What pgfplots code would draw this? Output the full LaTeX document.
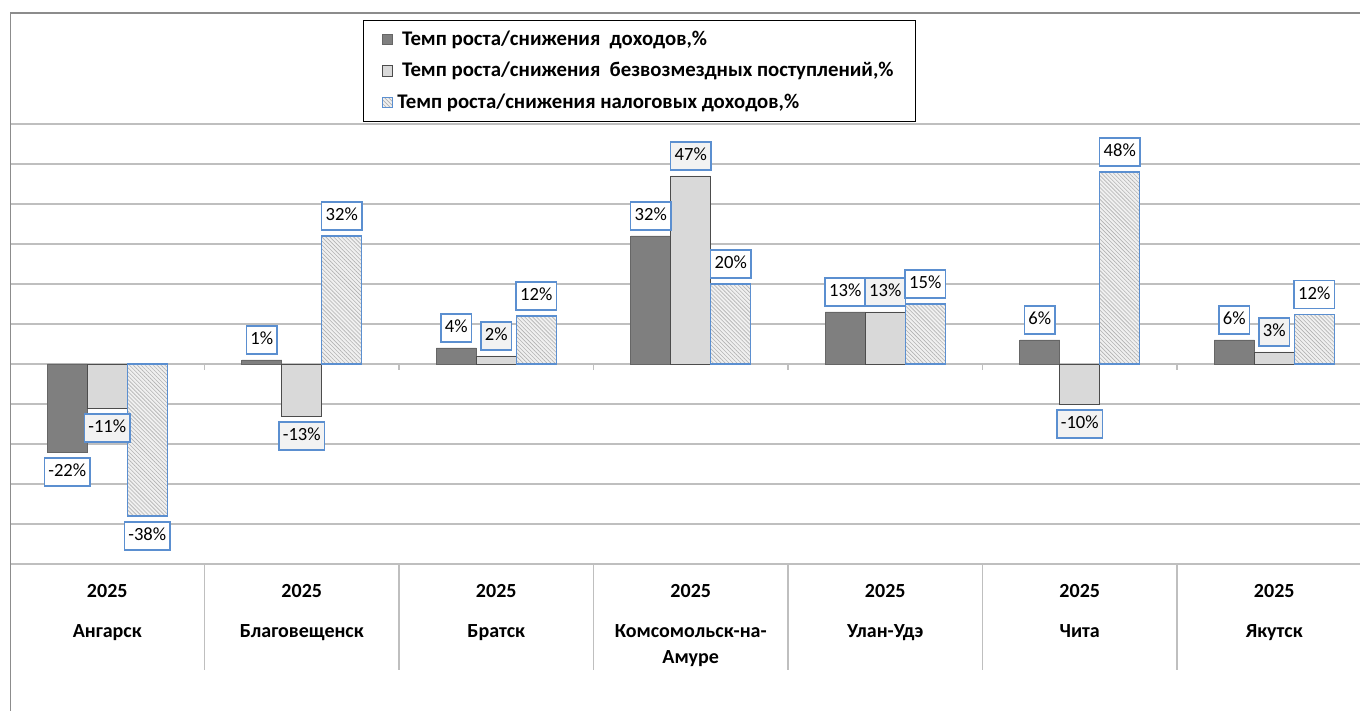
\documentclass[border=0pt]{standalone}
\usepackage{pgfplots}
\pgfplotsset{compat=1.18}
\usepackage{fontspec}
\setmainfont{Carlito}
\usetikzlibrary{patterns.meta}
\definecolor{darkbar}{HTML}{7F7F7F}
\definecolor{lightbar}{HTML}{D9D9D9}
\definecolor{labelblue}{HTML}{5B8FD0}
\definecolor{gridgray}{HTML}{BFBFBF}
\definecolor{bordergray}{HTML}{8C8C8C}
\begin{document}
\begin{tikzpicture}
\begin{axis}[
  scale only axis, width=675pt, height=349pt,
  xmin=-0.5, xmax=6.441, ymin=-86.75, ymax=87.75,
  ybar=0pt, bar width=20pt,
  axis line style={draw=none},
  tick style={draw=none}, major tick length=0pt,
  ytick={-50,-40,...,60}, yticklabels={},
  ymajorgrids, major grid style={gridgray, line width=0.6pt},
  xtick={0,...,6},
  xticklabels={{2025\\[7pt]Ангарск},{2025\\[7pt]Благовещенск},{2025\\[7pt]Братск},{2025\\[7pt]Комсомольск-на-\\Амуре},{2025\\[7pt]Улан-Удэ},{2025\\[7pt]Чита},{2025\\[7pt]Якутск}},
  xticklabel style={align=center, font=\bfseries\fontsize{10}{13}\selectfont, yshift=67pt, anchor=north},
  nodes near coords={\pgfmathprintnumber[fixed,precision=0,assume math mode=true]{\pgfplotspointmeta}\%},
  nodes near coords style={draw=labelblue, fill=white, font=\fontsize{9.3}{10}\selectfont, inner xsep=2pt, inner ysep=2.5pt, text height=7pt, text depth=2pt, outer sep=3pt, text=black, line width=0.8pt},
  legend image code/.code={\draw[#1] (0pt,-2.6pt) rectangle (5.2pt,2.6pt);},
  legend cell align=left,
  legend style={at={(0.2615,0.99)}, anchor=north west, draw=black, line width=0.5pt, font=\bfseries\fontsize{10.4}{12}\selectfont, inner xsep=9pt, inner ysep=3pt, row sep=3pt},
]
\addplot[fill=darkbar, draw=black!60, line width=0.4pt] coordinates {(0,-22) (1,1) (2,4) (3,32) (4,13) (5,6) (6,6)};
\addlegendentry{\ Темп роста/снижения\ \ доходов,\%}
\addplot[fill=lightbar, draw=black!70, line width=0.4pt, every node near coord/.append style={fill=black!5}] coordinates {(0,-11) (1,-13) (2,2) (3,47) (4,13) (5,-10) (6,3)};
\addlegendentry{\ Темп роста/снижения\ \ безвозмездных поступлений,\%}
\addplot[fill=black!6, draw=labelblue, line width=0.7pt, postaction={pattern={Lines[angle=-45,distance=1.4pt,line width=0.3pt]}, pattern color=black!30}] coordinates {(0,-38) (1,32) (2,12) (3,20) (4,15) (5,48) (6,12.4)};
\addlegendentry{Темп роста/снижения налоговых доходов,\%}
\draw[bordergray, line width=0.7pt] (rel axis cs:0,0) -- (rel axis cs:0,1) -- (rel axis cs:1,1);
\pgfplotsinvokeforeach{0.5,1.5,2.5,3.5,4.5,5.5}{
  \draw[gridgray, line width=0.6pt] (axis cs:#1,-50) -- (axis cs:#1,-76.5);
  \draw[gridgray, line width=0.6pt] (axis cs:#1,0) -- (axis cs:#1,-1.5);
}
\end{axis}
\pgfresetboundingbox
\path[use as bounding box] ([xshift=-5pt]current axis.south west) rectangle ([yshift=6.5pt]current axis.north east);
\end{tikzpicture}
\end{document}
